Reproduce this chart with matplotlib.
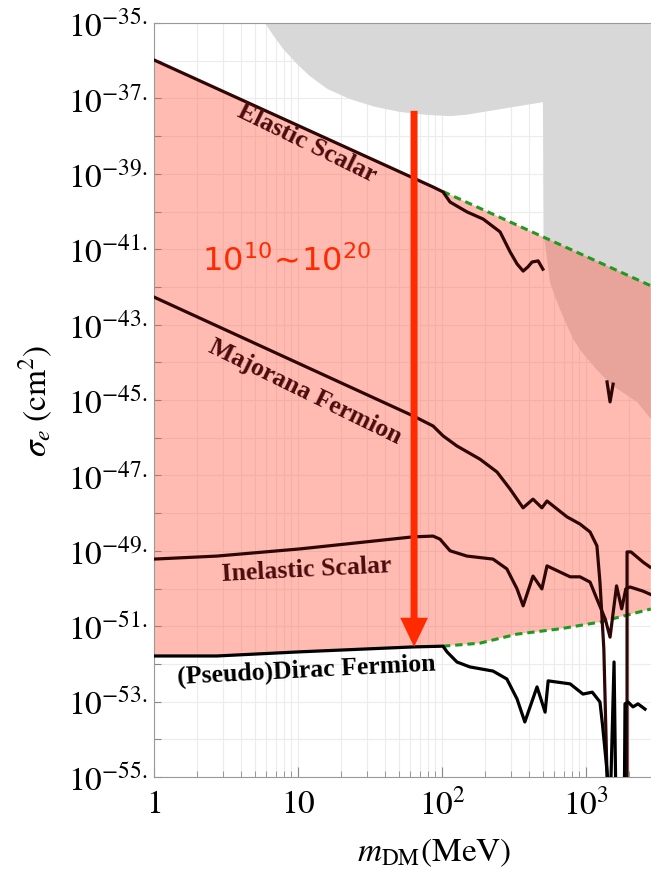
import numpy as np
import matplotlib.pyplot as plt
from matplotlib.ticker import FixedLocator, FuncFormatter, NullLocator, NullFormatter

plt.rcParams['mathtext.fontset'] = 'stix'
plt.rcParams['font.family'] = ['Liberation Serif', 'DejaVu Serif']

# dark matter mass (MeV) and log10 of sigma_e (cm^2)
elastic_m = [1, 86.7, 101.6, 113.8, 149, 193, 253, 297, 332, 366, 395, 422, 465, 502]
elastic_s = [-35.98, -39.35, -39.48, -39.75, -40.01, -40.2, -40.54, -41.07, -41.39,
             -41.58, -41.47, -41.34, -41.31, -41.53]
elastic_dip_m = [1400, 1469, 1542]
elastic_dip_s = [-44.52, -45.05, -44.58]

majorana_m = [1, 62.9, 86.7, 101.6, 127, 183.6, 241, 296.6, 365.6, 428.5, 494, 536, 738,
              908, 1067, 1191, 1250, 1330, 1400, 1445, 1866, 1928, 1928, 2054, 2490, 2780]
majorana_s = [-42.27, -45.42, -45.69, -45.95, -46.22, -46.57, -46.91, -47.36, -47.86,
              -47.63, -47.86, -47.68, -48.10, -48.29, -48.50, -48.87, -49.83, -51.6,
              -55.0, -57.0, -57.0, -55.0, -49.03, -49.03, -49.30, -49.43]

inelastic_m = [1, 2.73, 10.3, 62.9, 86.7, 96.8, 113.8, 149, 226, 282, 332, 366, 428.5,
               494, 536, 776, 908, 1067, 1191, 1360, 1469, 1630, 1770, 1890, 2022, 2490, 2780]
inelastic_s = [-49.22, -49.14, -48.95, -48.63, -48.61, -48.69, -49.0, -49.14, -49.22,
               -49.48, -50.01, -50.46, -49.67, -50.01, -49.40, -49.69, -49.69, -49.83,
               -50.28, -50.81, -51.29, -49.93, -50.54, -50.01, -49.96, -50.07, -50.15]

dirac_m = [1, 2.73, 10.3, 62.9, 101.6, 108.3, 127, 156, 226, 282, 332, 376, 457, 520,
           546, 776, 953, 1106, 1250, 1305, 1410, 1445, 1566, 1630, 1836, 1866, 1958,
           2120, 2296, 2570]
dirac_s = [-51.79, -51.79, -51.68, -51.55, -51.53, -51.68, -51.95, -52.08, -52.19,
           -52.40, -52.93, -53.54, -52.61, -53.28, -52.45, -52.53, -52.80, -52.75,
           -53.01, -53.65, -54.97, -57.0, -51.95, -57.0, -57.0, -53.06, -53.01, -53.14,
           -53.06, -53.2]

# dashed bounds of the 10^10~10^20 band
upper_m = [101.6, 2820]
upper_s = [-39.47, -41.97]
lower_m = [101.6, 183.6, 332, 660, 1250, 2780, 2820]
lower_s = [-51.53, -51.45, -51.21, -51.07, -50.89, -50.55, -50.54]

# grey excluded region
excl_m = [5.9, 6.8, 7.9, 9.8, 12.1, 16, 23, 34, 51, 80, 114, 150, 193, 300, 502,
          511, 540, 562, 610, 659, 730, 813, 930, 1066, 1280, 1541, 1900, 2259,
          2820, 3200, 3200, 5.9]
excl_s = [-35.0, -35.35, -35.69, -36.08, -36.41, -36.75, -37.02, -37.22, -37.36, -37.44,
          -37.47, -37.43, -37.36, -37.24, -37.10, -40.65, -41.35, -41.87, -42.27, -42.59,
          -42.98, -43.38, -43.72, -43.99, -44.33, -44.63, -44.86, -45.05, -45.5, -45.6,
          -34.0, -34.0]

arrow_m = 64
arrow_from, arrow_to = -37.33, -51.55

p = lambda a: 10.0 ** np.array(a)

fig = plt.figure(figsize=(6.51, 8.70), dpi=100)
ax = fig.add_axes([154 / 651, 1 - 778 / 870, 1 - 154 / 651, (778 - 24) / 870])
ax.set_xscale('log')
ax.set_yscale('log')
ax.set_xlim(1, 10 ** ((651 - 154) / 144))
ax.set_ylim(1e-55, 1e-35)

# grey region then translucent pink band on top
ax.fill(excl_m, p(excl_s), color='#d8d8d8', lw=0, zorder=1)
band_m = [1, 86.7] + upper_m + lower_m[::-1] + [62.9, 10.3, 2.73, 1]
band_s = [-35.98, -39.35] + upper_s + lower_s[::-1] + [-51.55, -51.68, -51.79, -51.79]
ax.fill(band_m, p(band_s), color='#ff5b43', alpha=0.41, lw=0, zorder=2)

ax.plot(upper_m, p(upper_s), color='#1f9a1f', lw=2.2, ls=(0, (2.4, 1.6)), zorder=3)
ax.plot(lower_m, p(lower_s), color='#1f9a1f', lw=2.2, ls=(0, (2.4, 1.6)), zorder=3)

brown = '#2e0606'
lw = 2.3
ax.plot(elastic_m, p(elastic_s), color=brown, lw=lw, zorder=4)
ax.plot(elastic_dip_m, p(elastic_dip_s), color=brown, lw=lw, zorder=4)
ax.plot(majorana_m, p(majorana_s), color=brown, lw=lw, zorder=4)
ax.plot(inelastic_m, p(inelastic_s), color=brown, lw=lw, zorder=4)
ax.plot(dirac_m, p(dirac_s), color='black', lw=lw, zorder=4)

lab = dict(fontsize=18.5, fontweight='bold', ha='center', va='center', zorder=5,
           family=['Liberation Serif', 'DejaVu Serif'])
ax.text(11.55, 10 ** -38.16, 'Elastic Scalar', color='#4a0c0c', rotation=-26, **lab)
ax.text(11.2, 10 ** -44.76, 'Majorana Fermion', color='#4a0c0c', rotation=-26, **lab)
ax.text(11.5, 10 ** -49.48, 'Inelastic Scalar', color='#4a0c0c', rotation=3, **lab)
ax.text(11.5, 10 ** -52.14, '(Pseudo)Dirac Fermion', color='black', rotation=3, **lab)

ax.text(8.4, 10 ** -41.31, r'$10^{10}\!\sim\!10^{20}$', color='#ff2a00',
        fontsize=23, ha='center', va='center', zorder=5, math_fontfamily='dejavusans')

ax.annotate('', xy=(arrow_m, 10 ** arrow_to), xytext=(arrow_m, 10 ** arrow_from),
            arrowprops=dict(arrowstyle='simple,head_length=2.1,head_width=2.0,tail_width=0.5',
                            mutation_scale=10, color='#ff2a00', lw=0,
                            shrinkA=0, shrinkB=0), zorder=6)

# ticks and grid
ax.yaxis.set_major_locator(FixedLocator(10.0 ** np.arange(-55, -34)))
ax.yaxis.set_minor_locator(NullLocator())
ax.yaxis.set_major_formatter(FuncFormatter(
    lambda v, pos: r'$10^{%d.}$' % round(np.log10(v)) if round(np.log10(v)) % 2 else ''))
ax.xaxis.set_major_locator(FixedLocator([1, 10, 100, 1000]))
ax.xaxis.set_major_formatter(FuncFormatter(
    lambda v, pos: {1: r'$1$', 10: r'$10$', 100: r'$10^2$', 1000: r'$10^3$'}.get(int(round(v)), '')))
ax.xaxis.set_minor_locator(FixedLocator([k * 10 ** d for d in range(4) for k in range(2, 10)]))
ax.xaxis.set_minor_formatter(NullFormatter())

ax.tick_params(which='both', direction='in', color='#888888', labelsize=24)
ax.tick_params(axis='x', which='major', length=7, pad=8)
ax.tick_params(axis='x', which='minor', length=4)
ax.tick_params(axis='y', which='major', length=5, pad=5)
ax.set_axisbelow(True)
ax.grid(which='both', axis='x', color='#ececec', lw=0.8, zorder=0)
ax.grid(which='major', axis='y', color='#ececec', lw=0.8, zorder=0)

for s in ['left', 'bottom', 'top']:
    ax.spines[s].set_color('#999999')
ax.spines['right'].set_visible(False)

ax.set_ylabel(r'$\sigma_e\;(\mathrm{cm}^2)$', fontsize=24)
ax.yaxis.set_label_coords(-0.2, 0.5)
ax.set_xlabel(r'$m_{\mathrm{DM}}(\mathrm{MeV})$', fontsize=24)
ax.xaxis.set_label_coords(0.563, -0.078)

fig.savefig('out.png', dpi=100)
